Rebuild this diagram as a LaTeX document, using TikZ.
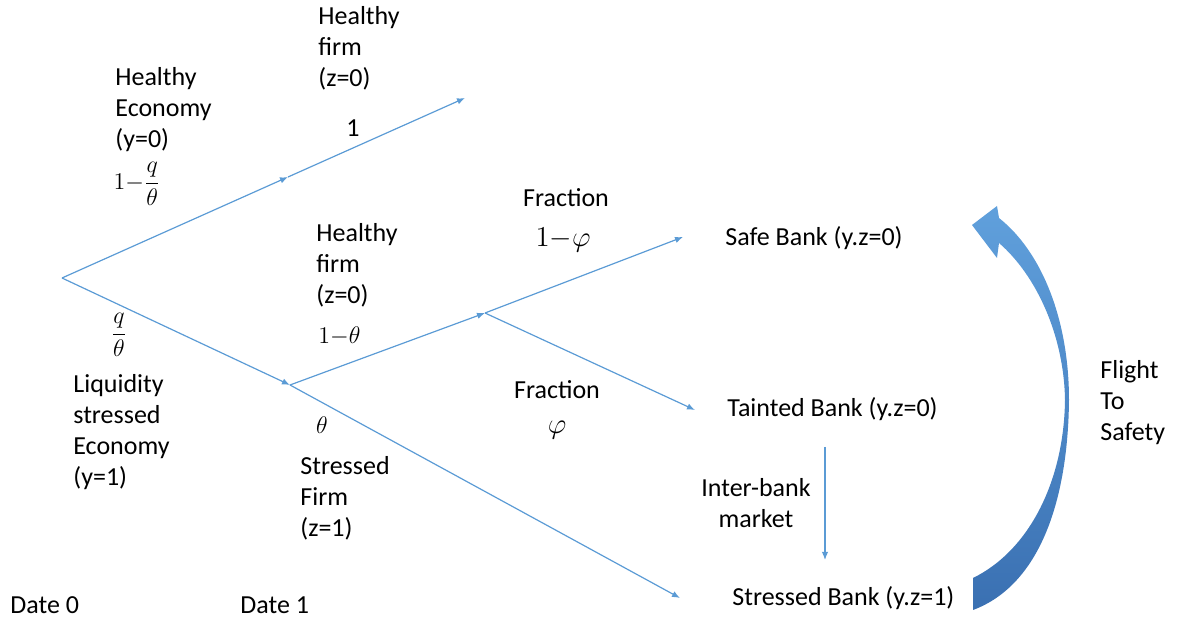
\documentclass[tikz,border=0pt]{standalone}
\usepackage{fontspec}
\setmainfont{Carlito}
\usepackage{amsmath}
\usetikzlibrary{arrows.meta}
\definecolor{branchblue}{RGB}{91,155,213}
\definecolor{flighttop}{RGB}{96,160,220}
\definecolor{flightbot}{RGB}{58,112,178}

\begin{document}
\begin{tikzpicture}[>={Latex[length=4pt,width=3.2pt]}, inner sep=0pt, x=0.5pt, y=-0.5pt,
  lbl/.style={align=left, anchor=west, font=\fontsize{13}{15.5}\selectfont},
  mlbl/.style={font=\fontsize{11.5}{13}\selectfont},
  blbl/.style={font=\fontsize{15}{18}\selectfont},
  branch/.style={->, draw=branchblue, line width=0.6pt}]
			\useasboundingbox (0,0) rectangle (1180,619);
			
			% tree points
			\coordinate (root) at (62,278);
			\coordinate (hup) at (288,177);
			\coordinate (hfirm) at (465,98);
			\coordinate (hdown) at (290,385);
			\coordinate (split) at (485,313);
			\coordinate (safe) at (683,237);
			\coordinate (tainted) at (695,410);
			\coordinate (stressed) at (680,598);
			\coordinate (ibtop) at (825,447);
			\coordinate (ibbot) at (825,560);
			
			% labels, date 0
			\node[lbl] (heco) at (115,110) {Healthy\\Economy\\(y=0)};
			\node[mlbl] (pheco) at (137,184) {$1{-}\dfrac{q}{\theta}$};
			\node[mlbl] (pseco) at (119,335) {$\dfrac{q}{\theta}$};
			\node[lbl] (seco) at (73,432) {Liquidity\\stressed\\Economy\\(y=1)};
			
			% labels, date 1
			\node[lbl] (hfirm1) at (318,48) {Healthy\\firm\\(z=0)};
			\node[lbl] (phfirm1) at (346,128) {1};
			\node[lbl] (hfirm2) at (316,265) {Healthy\\firm\\(z=0)};
			\node[mlbl, anchor=west] (phfirm2) at (318,336) {$1{-}\theta$};
			\node[mlbl] (psfirm) at (322,425) {$\theta$};
			\node[lbl] (sfirm) at (300,498) {Stressed\\Firm\\(z=1)};
			
			% fractions
			\node[lbl, anchor=center] (fsafe) at (566,198) {Fraction};
			\node[blbl] (pfsafe) at (563,240) {$1{-}\varphi$};
			\node[lbl, anchor=center] (ftaint) at (557,390) {Fraction};
			\node[blbl] (pftaint) at (557,430) {$\varphi$};
			
			% banks
			\node[lbl] (safebank) at (725,238) {Safe Bank (y.z=0)};
			\node[lbl] (taintbank) at (727,409) {Tainted Bank (y.z=0)};
			\node[lbl] (stressbank) at (732,598) {Stressed Bank (y.z=1)};
			\node[lbl, align=center, anchor=center] (ibank) at (756,503) {Inter-bank\\market};
			\node[lbl] (flight) at (1100,403) {Flight\\To\\Safety};
			
			\node[lbl] (date0) at (10,605) {Date 0};
			\node[lbl] (date1) at (240,605) {Date 1};
			
			% branches
			\draw[branch] (root) -- (hup);
			\draw[branch] (hup) -- (hfirm);
			\draw[branch] (root) -- (hdown);
			\draw[branch] (hdown) -- (split);
			\draw[branch] (split) -- (safe);
			\draw[branch] (split) -- (tainted);
			\draw[branch] (hdown) -- (stressed);
			\draw[branch] (ibtop) -- (ibbot);
			
			% flight to safety arrow
			\shade[top color=flighttop, bottom color=flightbot]
			  (973,610) .. controls (1040,585) and (1068,500) .. (1069,400)
			  .. controls (1069,320) and (1042,252) .. (999,218)
			  -- (997,206) -- (972,225) -- (997,258) -- (999,243)
			  .. controls (1036,275) and (1064,335) .. (1065,400)
			  .. controls (1064,480) and (1030,550) .. (973,578) -- cycle;
		\end{tikzpicture}
\end{document}
